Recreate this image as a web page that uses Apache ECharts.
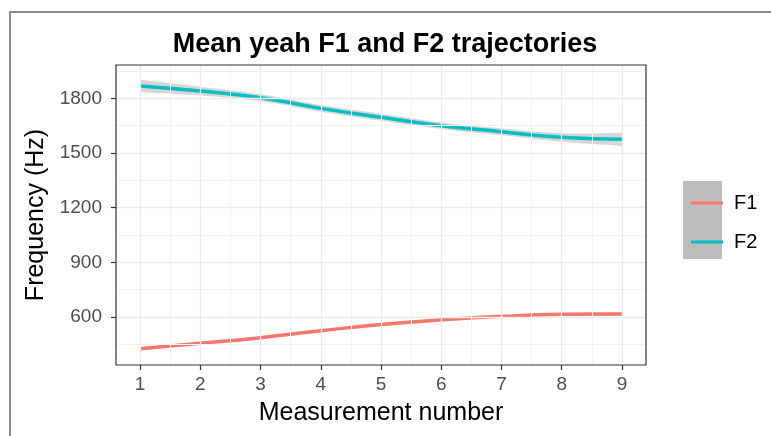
<!DOCTYPE html>
<html>
<head>
<meta charset="utf-8">
<script src="https://cdn.jsdelivr.net/npm/echarts@6/dist/echarts.min.js"></script>
<style>
  html, body { margin: 0; padding: 0; background: #ffffff; }
  #chart { width: 771px; height: 436px; }
</style>
</head>
<body>
<div id="chart"></div>
<script>
// Measurement points along the vowel
const measurement = [1, 2, 3, 4, 5, 6, 7, 8, 9];

// Smoothed mean formant values (Hz) and half-width of the confidence band
const f1Mean = [426, 456, 487, 525, 559, 585, 604, 615, 617];
const f1HalfBand = [9, 7, 6, 6, 6, 6, 6, 7, 9];
const f2Mean = [1868, 1840, 1803, 1745, 1696, 1650, 1617, 1586, 1575];
const f2HalfBand = [34, 24, 19, 18, 19, 18, 19, 23, 36];

// Axis breaks
const xTicks = [1, 2, 3, 4, 5, 6, 7, 8, 9];
const xMinor = [1.5, 2.5, 3.5, 4.5, 5.5, 6.5, 7.5, 8.5];
const yTicks = [600, 900, 1200, 1500, 1800];
const yMinor = [450, 750, 1050, 1350, 1650, 1950];

const FONT = '"Liberation Sans", Arial, sans-serif';
const F1_COLOR = '#F8766D';
const F2_COLOR = '#00BFC4';
const BAND_COLOR = 'rgba(153,153,153,0.4)';

const pairs = (ys) => measurement.map((x, i) => [x, ys[i]]);

// Cubic segments through pixel points, same spirit as the line series smoothing
function smoothSegments(pts) {
  const k = 0.25;
  let d = '';
  for (let i = 0; i < pts.length - 1; i++) {
    const p0 = pts[i - 1] || pts[i];
    const p1 = pts[i];
    const p2 = pts[i + 1];
    const p3 = pts[i + 2] || pts[i + 1];
    const c1 = [p1[0] + (p2[0] - p0[0]) * k, p1[1] + (p2[1] - p0[1]) * k];
    const c2 = [p2[0] - (p3[0] - p1[0]) * k, p2[1] - (p3[1] - p1[1]) * k];
    d += ' C' + c1[0] + ' ' + c1[1] + ' ' + c2[0] + ' ' + c2[1] + ' ' + p2[0] + ' ' + p2[1];
  }
  return d;
}

// Confidence ribbon: upper edge forward, lower edge back, closed
function bandSeries(name, mean, hw) {
  const upper = mean.map((v, i) => v + hw[i]);
  const lower = mean.map((v, i) => v - hw[i]);
  return {
    name: name + ' band', type: 'custom', silent: true, z: 2,
    data: pairs(upper),
    encode: { x: 0, y: 1 },
    renderItem: function (params, api) {
      if (params.dataIndex !== 0) return null;
      const up = measurement.map((x, i) => api.coord([x, upper[i]]));
      const lo = measurement.map((x, i) => api.coord([x, lower[i]])).reverse();
      const d = 'M' + up[0][0] + ' ' + up[0][1] + smoothSegments(up) +
        ' L' + lo[0][0] + ' ' + lo[0][1] + smoothSegments(lo) + ' Z';
      return { type: 'path', shape: { pathData: d }, style: { fill: BAND_COLOR, stroke: null } };
    }
  };
}

const majorGrid = { color: '#ebebeb', width: 1.3, type: 'solid' };
const minorGrid = { color: '#f2f2f2', width: 1, type: 'solid' };

const gridLines = [].concat(
  xMinor.map(v => ({ xAxis: v, lineStyle: minorGrid })),
  yMinor.map(v => ({ yAxis: v, lineStyle: minorGrid })),
  xTicks.map(v => ({ xAxis: v, lineStyle: majorGrid })),
  yTicks.map(v => ({ yAxis: v, lineStyle: majorGrid }))
);

const chart = echarts.init(document.getElementById('chart'), null, { renderer: 'canvas' });

chart.setOption({
  animation: false,
  backgroundColor: '#ffffff',
  textStyle: { fontFamily: FONT },
  title: {
    text: 'Mean yeah F1 and F2 trajectories',
    left: 380, top: 26, textAlign: 'center',
    textStyle: { fontFamily: FONT, fontSize: 27, fontWeight: 'bold', color: '#000000' }
  },
  grid: {
    left: 116, right: 125, top: 65, bottom: 71,
    show: true, borderColor: '#333333', borderWidth: 1.2, backgroundColor: 'transparent',
    z: 10
  },
  legend: {
    data: [{ name: 'F1', icon: 'rect' }, { name: 'F2', icon: 'rect' }],
    orient: 'vertical', left: 686, top: 187,
    itemWidth: 32, itemHeight: 3, itemGap: 17, z: 6,
    selectedMode: false,
    textStyle: { fontFamily: FONT, fontSize: 20, color: '#000000', lineHeight: 22, padding: [0, 0, 0, 6] }
  },
  graphic: [
    { type: 'rect', shape: { x: 683, y: 181, width: 39, height: 78 }, style: { fill: '#bdbdbd' }, z: 1 },
    { type: 'line', shape: { x1: 9, y1: 12, x2: 771, y2: 12 }, style: { stroke: '#8c8c8c', lineWidth: 2 }, z: 1 },
    { type: 'line', shape: { x1: 10, y1: 12, x2: 10, y2: 436 }, style: { stroke: '#8c8c8c', lineWidth: 2 }, z: 1 }
  ],
  xAxis: {
    type: 'value', min: 0.6, max: 9.4,
    name: 'Measurement number', nameLocation: 'middle', nameGap: 36,
    nameTextStyle: { fontFamily: FONT, fontSize: 25, color: '#000000' },
    axisLine: { show: false },
    axisTick: { show: true, customValues: xTicks, length: 5, lineStyle: { color: '#333333', width: 1.2 } },
    axisLabel: { customValues: xTicks, margin: 10, fontFamily: FONT, fontSize: 19, color: '#4d4d4d' },
    splitLine: { show: false }
  },
  yAxis: {
    type: 'value', min: 337, max: 1983,
    name: 'Frequency (Hz)', nameLocation: 'middle', nameGap: 55,
    nameTextStyle: { fontFamily: FONT, fontSize: 25, color: '#000000' },
    axisLine: { show: false },
    axisTick: { show: true, customValues: yTicks, length: 5, lineStyle: { color: '#333333', width: 1.2 } },
    axisLabel: {
      customValues: yTicks, margin: 14, fontFamily: FONT, fontSize: 19, color: '#4d4d4d',
      formatter: (v) => String(v)
    },
    splitLine: { show: false }
  },
  series: [
    {
      name: 'grid', type: 'line', silent: true, showSymbol: false, z: 1,
      lineStyle: { opacity: 0 },
      data: pairs(f1Mean),
      markLine: {
        silent: true, symbol: ['none', 'none'], label: { show: false },
        animation: false, data: gridLines
      }
    },
    bandSeries('F1', f1Mean, f1HalfBand),
    bandSeries('F2', f2Mean, f2HalfBand),
    {
      name: 'F1', type: 'line', smooth: true, showSymbol: false, z: 3,
      itemStyle: { color: F1_COLOR },
      lineStyle: { color: F1_COLOR, width: 3.5 },
      data: pairs(f1Mean)
    },
    {
      name: 'F2', type: 'line', smooth: true, showSymbol: false, z: 3,
      itemStyle: { color: F2_COLOR },
      lineStyle: { color: F2_COLOR, width: 3.5 },
      data: pairs(f2Mean)
    }
  ]
});
</script>
</body>
</html>
